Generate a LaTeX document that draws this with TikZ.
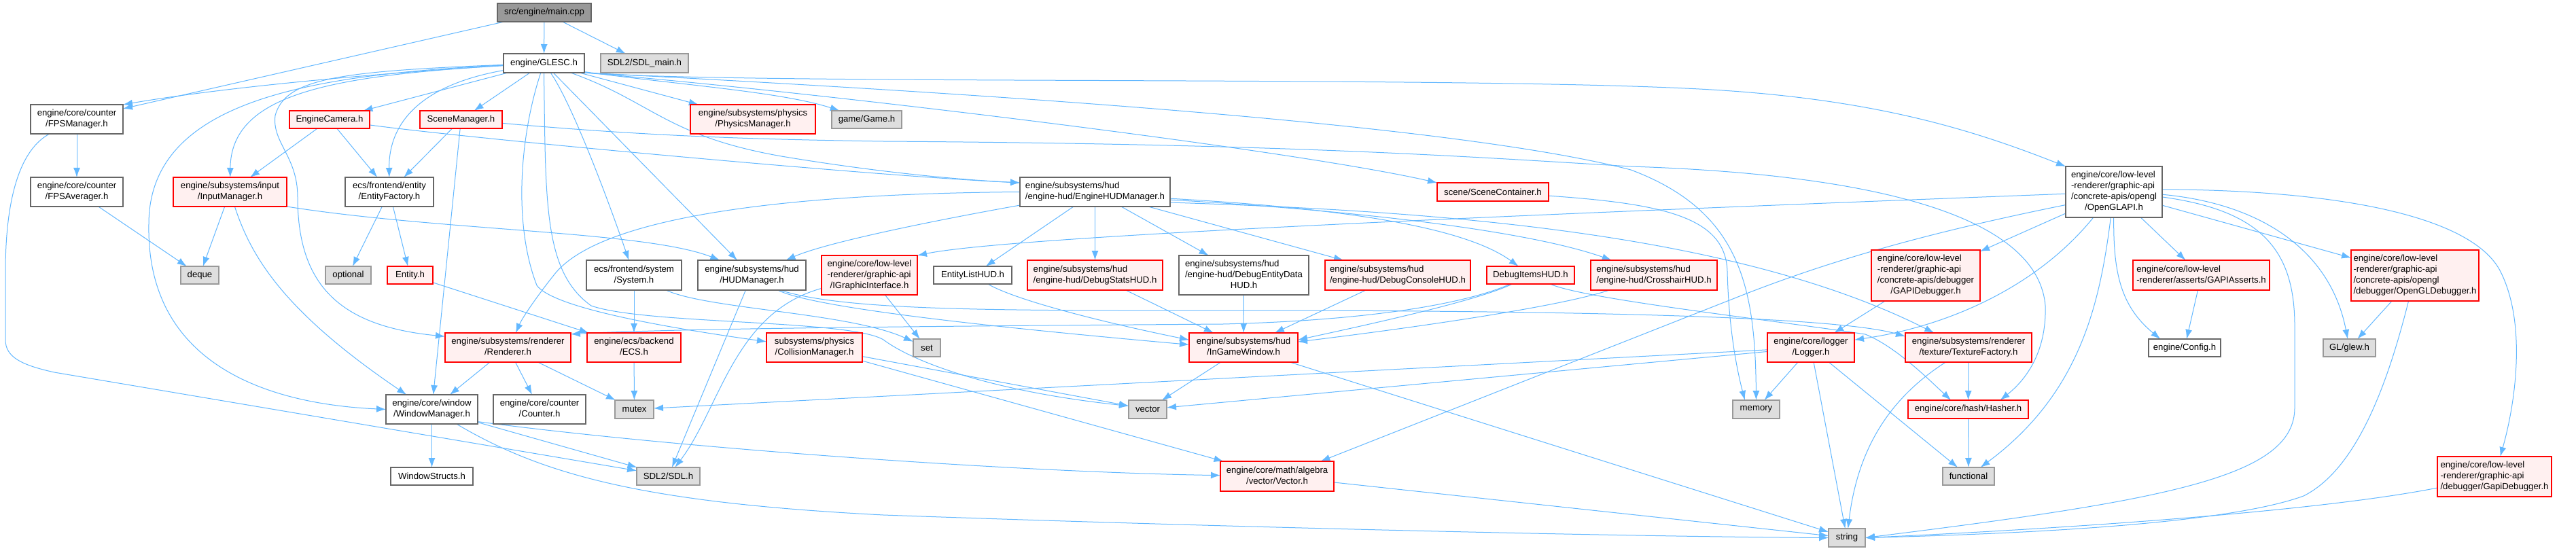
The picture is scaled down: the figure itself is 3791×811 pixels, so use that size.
\documentclass[tikz,border=0pt]{standalone}
\usepackage{fontspec}
\setmainfont{Liberation Sans}
\usetikzlibrary{arrows.meta}
\definecolor{edgec}{HTML}{63B8FF}
\definecolor{redfill}{HTML}{FFF0F0}
\definecolor{greyA}{HTML}{666666}
\definecolor{greyB}{HTML}{999999}
\definecolor{greyC}{HTML}{DEDEDE}
\newcommand{\ml}[2]{\begin{tabular}{@{}l@{}}#1\\\multicolumn{1}{@{}c@{}}{#2}\end{tabular}}
\pgfdeclarelayer{bg}
\pgfsetlayers{bg,main}
\begin{document}
\begin{tikzpicture}[x=0.2mm, y=-0.2mm,
  box/.style={rectangle, inner sep=0pt, outer sep=0pt, line width=0.25mm, font=\fontsize{7.5}{9.1}\selectfont, text=black},
  nrm/.style={box, draw=greyA, fill=white},
  rednode/.style={box, draw=red, fill=redfill},
  ext/.style={box, draw=greyB, fill=greyC},
  mainn/.style={box, draw=greyA, fill=greyB},
  wh/.style 2 args={minimum width={#1*0.2mm}, minimum height={#2*0.2mm}},
  e/.style={draw=edgec, line width=0.2mm, -{Latex[length=2.8mm,width=2mm]}}]
\useasboundingbox (0,0) rectangle (3791,811);

% nodes
\node[mainn, wh={138}{27}] (mainc) at (801,18.5) {src/engine/main.cpp};
\node[nrm, wh={119}{28}] (glesc) at (800.5,93) {engine/GLESC.h};
\node[ext, wh={129}{28}] (sdlmain) at (948.5,93) {SDL2/SDL\_main.h};
\node[nrm, wh={136}{43}] (fpsm) at (113,175.5) {\ml{engine/core/counter}{/FPSManager.h}};
\node[rednode, wh={118}{26}] (cam) at (485,176) {EngineCamera.h};
\node[rednode, wh={121}{26}] (scenem) at (678.5,176) {SceneManager.h};
\node[rednode, wh={184}{43}] (physm) at (1108,175.5) {\ml{engine/subsystems/physics}{/PhysicsManager.h}};
\node[ext, wh={103}{26}] (game) at (1275.5,176) {game/Game.h};
\node[nrm, wh={136}{43}] (fpsa) at (113,282.5) {\ml{engine/core/counter}{/FPSAverager.h}};
\node[rednode, wh={167}{43}] (inputm) at (338.5,282.5) {\ml{engine/subsystems/input}{/InputManager.h}};
\node[nrm, wh={130}{43}] (entfac) at (573,282.5) {\ml{ecs/frontend/entity}{/EntityFactory.h}};
\node[nrm, wh={221}{43}] (ehud) at (1611.5,282.5) {\ml{engine/subsystems/hud}{/engine-hud/EngineHUDManager.h}};
\node[rednode, wh={164}{27}] (scont) at (2197,282.5) {scene/SceneContainer.h};
\node[nrm, wh={142}{75}] (ogl) at (3111,282.5) {\ml{engine/core/low-level\\-renderer/graphic-api\\/concrete-apis/opengl}{/OpenGLAPI.h}};
\node[ext, wh={56}{26}] (deque) at (294,405) {deque};
\node[ext, wh={67}{26}] (optional) at (512.5,405) {optional};
\node[rednode, wh={67}{26}] (entity) at (603.5,405) {Entity.h};
\node[nrm, wh={140}{44}] (system) at (933,405) {\ml{ecs/frontend/system}{/System.h}};
\node[nrm, wh={159}{44}] (hudm) at (1106.5,405) {\ml{engine/subsystems/hud}{/HUDManager.h}};
\node[rednode, wh={141}{58}] (igfx) at (1279.5,405) {\ml{engine/core/low-level\\-renderer/graphic-api}{/IGraphicInterface.h}};
\node[nrm, wh={115}{26}] (elhud) at (1431.5,405) {EntityListHUD.h};
\node[rednode, wh={199}{44}] (dshud) at (1611.5,405) {\ml{engine/subsystems/hud}{/engine-hud/DebugStatsHUD.h}};
\node[nrm, wh={191}{58}] (dehud) at (1830.5,405) {\ml{engine/subsystems/hud\\/engine-hud/DebugEntityData}{HUD.h}};
\node[rednode, wh={214}{44}] (dchud) at (2057,405) {\ml{engine/subsystems/hud}{/engine-hud/DebugConsoleHUD.h}};
\node[rednode, wh={129}{26}] (dihud) at (2252.5,405) {DebugItemsHUD.h};
\node[rednode, wh={186}{44}] (chud) at (2434,405) {\ml{engine/subsystems/hud}{/engine-hud/CrosshairHUD.h}};
\node[rednode, wh={160}{75}] (gapidbg) at (2834,405.5) {\ml{engine/core/low-level\\-renderer/graphic-api\\/concrete-apis/debugger}{/GAPIDebugger.h}};
\node[rednode, wh={201}{44}] (gapiasrt) at (3239.5,405) {\ml{engine/core/low-level}{-renderer/asserts/GAPIAsserts.h}};
\node[rednode, wh={188}{75}] (ogldbg) at (3554,405.5) {\ml{engine/core/low-level\\-renderer/graphic-api\\/concrete-apis/opengl}{/debugger/OpenGLDebugger.h}};
\node[rednode, wh={185}{43}] (renderer) at (747.5,511.5) {\ml{engine/subsystems/renderer}{/Renderer.h}};
\node[rednode, wh={138}{43}] (ecs) at (933,511.5) {\ml{engine/ecs/backend}{/ECS.h}};
\node[ext, wh={40}{26}] (set) at (1364,512) {set};
\node[rednode, wh={141}{43}] (collm) at (1198.5,511.5) {\ml{subsystems/physics}{/CollisionManager.h}};
\node[rednode, wh={160}{43}] (igw) at (1830,511.5) {\ml{engine/subsystems/hud}{/InGameWindow.h}};
\node[rednode, wh={128}{43}] (logger) at (2665,511.5) {\ml{engine/core/logger}{/Logger.h}};
\node[rednode, wh={186}{43}] (texf) at (2897,511.5) {\ml{engine/subsystems/renderer}{/texture/TextureFactory.h}};
\node[nrm, wh={106}{26}] (config) at (3215,512) {engine/Config.h};
\node[ext, wh={77}{26}] (glew) at (3457.5,512) {GL/glew.h};
\node[nrm, wh={135}{43}] (winm) at (635.5,602.5) {\ml{engine/core/window}{/WindowManager.h}};
\node[nrm, wh={136}{43}] (counter) at (794,602.5) {\ml{engine/core/counter}{/Counter.h}};
\node[ext, wh={57}{27}] (mutex) at (933.5,602.5) {mutex};
\node[ext, wh={56}{27}] (vectorstd) at (1689,602.5) {vector};
\node[ext, wh={69}{27}] (memory) at (2584.5,602.5) {memory};
\node[rednode, wh={177}{27}] (hasher) at (2896.5,602.5) {engine/core/hash/Hasher.h};
\node[nrm, wh={121}{26}] (winstr) at (635.5,701) {WindowStructs.h};
\node[ext, wh={93}{26}] (sdl) at (983.5,701) {SDL2/SDL.h};
\node[rednode, wh={167}{44}] (vecmath) at (1879.5,701) {\ml{engine/core/math/algebra}{/vector/Vector.h}};
\node[ext, wh={76}{26}] (functional) at (2897,701) {functional};
\node[rednode, wh={168}{59}] (gapidbgb) at (3671,701.5) {\ml{engine/core/low-level\\-renderer/graphic-api}{/debugger/GapiDebugger.h}};
\node[ext, wh={54}{27}] (string) at (2718,791.5) {string};

\begin{pgfonlayer}{bg}
\fill[white] (0,0) rectangle (3791,811);
% main.cpp
\draw[e] (mainc) -- (fpsm);
\draw[e] (mainc) -- (glesc);
\draw[e] (mainc) -- (sdlmain);
% GLESC.h
\draw[e] (glesc) .. controls (600,105) and (350,125) .. (fpsm.north east);
\draw[e] (glesc) -- (cam);
\draw[e] (glesc) -- (scenem);
\draw[e] (glesc) .. controls (480,112) and (340,140) .. (inputm);
\draw[e] (glesc) .. controls (620,125) and (572,180) .. (entfac);
\draw[e] (glesc) .. controls (450,110) and (219,150) .. (219,330) .. controls (215,540) and (400,595) .. (winm.west);
\draw[e] (glesc) .. controls (500,105) and (420,115) .. (405,170) .. controls (400,210) and (438,230) .. (438,290) .. controls (438,420) and (500,480) .. (renderer.170);
\draw[e] (glesc) .. controls (765,200) and (755,330) .. (790,420) .. controls (815,455) and (1000,485) .. (collm.173);
\draw[e] (glesc.south) .. controls (803,300) and (800,400) .. (870,450) .. controls (950,478) and (1250,470) .. (1300,500) .. controls (1340,530) and (1450,575) .. (vectorstd.170);
\draw[e] (glesc) .. controls (840,150) and (890,280) .. (system);
\draw[e] (glesc) -- (hudm);
\draw[e] (glesc) -- (physm);
\draw[e] (glesc.-12) .. controls (1000,125) and (1150,135) .. (game);
\draw[e] (glesc) .. controls (960,150) and (980,200) .. (1150,230) .. controls (1300,255) and (1420,265) .. (ehud.173);
\draw[e] (glesc.south east) .. controls (1100,125) and (2100,112) .. (2480,130) .. controls (2750,142) and (2900,190) .. (ogl.north west);
\draw[e] (glesc.south east) .. controls (1200,135) and (1900,220) .. (scont.north west);
\draw[e] (glesc.south east) .. controls (1500,140) and (2150,185) .. (2400,250) .. controls (2560,310) and (2583,420) .. (memory.north);
% FPS
\draw[e] (fpsm) -- (fpsa);
\draw[e] (fpsm) .. controls (30,220) and (8,290) .. (8,400) -- (8,500) .. controls (8,525) and (30,537) .. (80,548) -- (sdl.170);
\draw[e] (fpsa) -- (deque);
% EngineCamera
\draw[e] (cam) -- (inputm);
\draw[e] (cam) -- (entfac);
\draw[e] (cam) .. controls (700,205) and (1300,260) .. (ehud.173);
% SceneManager
\draw[e] (scenem) -- (entfac);
\draw[e] (scenem) -- (winm);
\draw[e] (scenem) .. controls (950,200) and (1100,205) .. (1300,208) .. controls (1900,212) and (2150,230) .. (2400,245) .. controls (2800,258) and (3000,330) .. (3010,450) .. controls (3012,520) and (2980,560) .. (hasher.16);
% InputManager
\draw[e] (inputm) -- (deque);
\draw[e] (inputm) .. controls (370,380) and (420,460) .. (winm.150);
\draw[e] (inputm.south east) .. controls (650,340) and (950,340) .. (hudm.155);
% EntityFactory
\draw[e] (entfac) -- (optional);
\draw[e] (entfac) -- (entity);
\draw[e] (entity) -- (ecs);
% EngineHUDManager
\draw[e] (ehud) .. controls (1400,320) and (1220,355) .. (hudm);
\draw[e] (ehud.west) .. controls (1150,285) and (880,320) .. (815,405) .. controls (795,430) and (770,465) .. (renderer.62);
\draw[e] (ehud) -- (elhud);
\draw[e] (ehud) -- (dshud);
\draw[e] (ehud) -- (dehud);
\draw[e] (ehud) -- (dchud);
\draw[e] (ehud.-5) .. controls (1950,305) and (2150,330) .. (dihud);
\draw[e] (ehud.-6) .. controls (2000,310) and (2250,340) .. (chud);
\draw[e] (ehud.-8) .. controls (2100,310) and (2550,340) .. (texf.157);
% HUDManager
\draw[e] (hudm) -- (sdl);
\draw[e] (hudm.-30) .. controls (1200,455) and (1500,485) .. (igw.177);
\draw[e] (hudm.-28) .. controls (1250,460) and (1500,457) .. (1900,457) .. controls (2300,458) and (2700,465) .. (texf.170);
% System
\draw[e] (system) -- (ecs);
\draw[e] (system) .. controls (1040,455) and (1250,460) .. (set);
% IGraphicInterface
\draw[e] (igfx) -- (set);
\draw[e] (igfx) .. controls (1080,460) and (1060,600) .. (sdl);
% HUD items
\draw[e] (elhud) .. controls (1500,445) and (1650,480) .. (igw.172);
\draw[e] (dshud) -- (igw);
\draw[e] (dehud) -- (igw);
\draw[e] (dchud) -- (igw);
\draw[e] (dihud) .. controls (2180,440) and (2050,470) .. (igw.8);
\draw[e] (chud) .. controls (2300,450) and (2100,480) .. (igw.6);
\draw[e] (dihud) .. controls (2150,450) and (2000,472) .. (1800,477) .. controls (1400,480) and (1000,483) .. (renderer.12);
\draw[e] (dihud) .. controls (2330,440) and (2600,470) .. (2745,492) .. controls (2790,510) and (2840,560) .. (hasher.152);
% InGameWindow
\draw[e] (igw) -- (vectorstd);
\draw[e] (igw) -- (string);
% CollisionManager
\draw[e] (collm) -- (vectorstd);
\draw[e] (collm) -- (vecmath);
% Renderer, ECS
\draw[e] (renderer) -- (winm);
\draw[e] (renderer) -- (counter);
\draw[e] (renderer) -- (mutex);
\draw[e] (ecs) -- (mutex);
% Logger
\draw[e] (logger) -- (mutex);
\draw[e] (logger) -- (vectorstd);
\draw[e] (logger) -- (memory);
\draw[e] (logger) -- (string);
\draw[e] (logger) -- (functional);
% TextureFactory, Hasher
\draw[e] (texf) -- (hasher);
\draw[e] (texf) .. controls (2790,580) and (2735,650) .. (string);
\draw[e] (hasher) -- (functional);
% debuggers
\draw[e] (gapidbg) -- (logger);
\draw[e] (gapiasrt) -- (config);
\draw[e] (ogldbg) -- (glew);
\draw[e] (ogldbg) .. controls (3515,560) and (3470,690) .. (3390,730) .. controls (3280,770) and (3000,785) .. (string.east);
\draw[e] (gapidbgb) .. controls (3400,755) and (3000,780) .. (string.east);
% OpenGLAPI
\draw[e] (ogl) .. controls (2400,310) and (1500,345) .. (igfx.north east);
\draw[e] (ogl.195) .. controls (2850,340) and (2700,380) .. (2550,440) -- (vecmath.19);
\draw[e] (ogl) -- (gapidbg);
\draw[e] (ogl) .. controls (3000,420) and (2870,480) .. (logger.10);
\draw[e] (ogl) .. controls (3090,450) and (3060,580) .. (functional);
\draw[e] (ogl) .. controls (3110,400) and (3120,450) .. (config.160);
\draw[e] (ogl) -- (gapiasrt);
\draw[e] (ogl.-3) .. controls (3330,300) and (3430,370) .. (glew);
\draw[e] (ogl) -- (ogldbg);
\draw[e] (ogl.3) .. controls (3450,280) and (3640,320) .. (3680,400) .. controls (3720,480) and (3700,600) .. (gapidbgb);
\draw[e] (ogl.-6) .. controls (3330,310) and (3377,370) .. (3377,480) -- (3377,600) .. controls (3377,700) and (3200,735) .. (string.east);
% SceneContainer
\draw[e] (scont) .. controls (2450,300) and (2540,320) .. (2542,400) .. controls (2544,480) and (2555,540) .. (memory.141);
% WindowManager
\draw[e] (winm) -- (winstr);
\draw[e] (winm) -- (sdl);
\draw[e] (winm.-15) .. controls (1000,660) and (1500,695) .. (vecmath);
\draw[e] (winm) .. controls (800,700) and (950,740) .. (1300,758) .. controls (1800,776) and (2400,790) .. (string.west);
% Vector
\draw[e] (vecmath) -- (string);
\end{pgfonlayer}
\end{tikzpicture}
\end{document}
